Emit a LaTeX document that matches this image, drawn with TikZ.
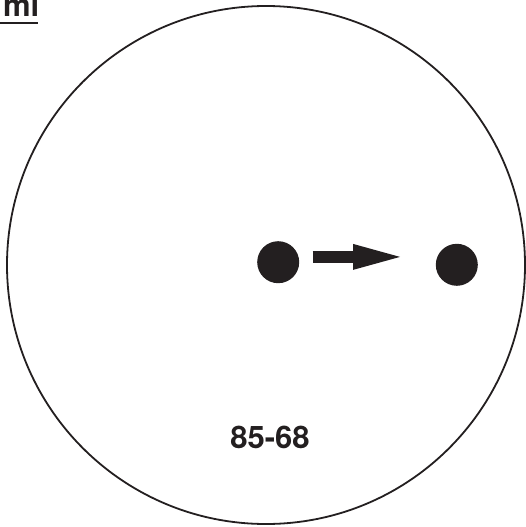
\documentclass[tikz,border=0pt]{standalone}
\usepackage{fontspec}
\setmainfont{TeX Gyre Heros}
\usetikzlibrary{arrows.meta}
\definecolor{ink}{RGB}{35,31,32}
\tikzset{
  dot/.style={circle, fill=ink, inner sep=0pt, minimum size=42pt},
  push/.style={ink, line width=11.7pt,
    -{Triangle[length=47pt, width=26pt, line width=0pt]}},
  label/.style={inner sep=0pt, text=ink,
    font=\bfseries\fontsize{31}{31}\selectfont}
}
\begin{document}
\begin{tikzpicture}[x=1pt, y=-1pt]
  \useasboundingbox (0,0) rectangle (526,527);
  \clip (0,0) rectangle (526,527);

  % dish
  \draw[ink, line width=1.8pt] (266,265) circle (259pt);

  % the two spots and the move between them
  \node[dot] (start) at (278.2,262.2) {};
  \node[dot] (stop) at (456.8,264.8) {};
  \coordinate (tail) at (312.7,256.9);
  \coordinate (head) at (400,256.9);
  \draw[push] (tail) -- (head);

  % texts
  \node[label] (code) at (270,437.5) {85-68};
  \node[label, anchor=base east] (unit) at (39.5,17) {ml};
  \draw[ink, line width=1.7pt] (0,22.8) -- (38,22.8);
\end{tikzpicture}
\end{document}
